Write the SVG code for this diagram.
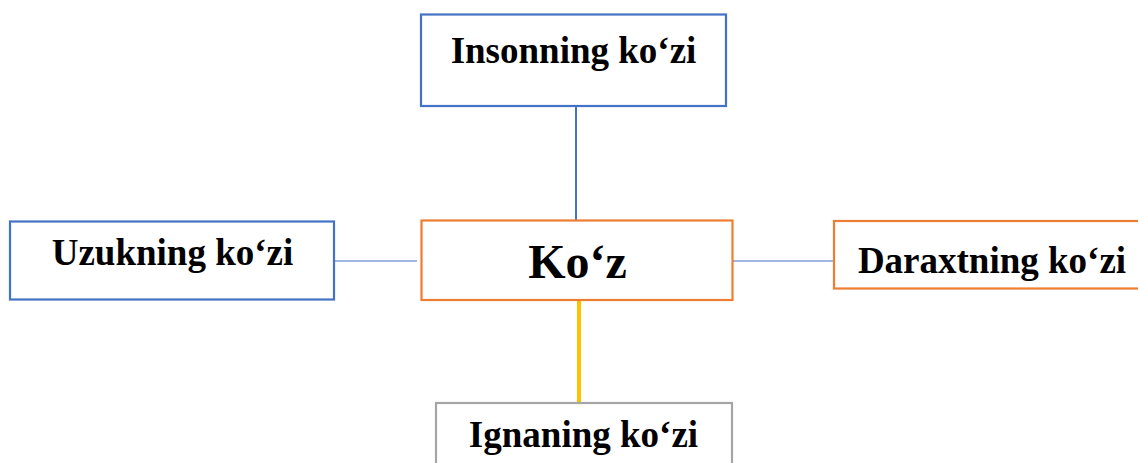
<svg xmlns="http://www.w3.org/2000/svg" width="1138" height="463" viewBox="0 0 1138 463">
<style>
.box{fill:#fff;stroke-width:2.2}
.lbl{font-family:"Liberation Serif","Times New Roman",serif;font-weight:bold;font-size:37px;fill:#000;text-anchor:middle}
.blue{stroke:#4472C4}
.orange{stroke:#ED7D31}
.gray{stroke:#A5A5A5}
</style>
<rect width="1138" height="463" fill="#fff"/>
<g id="connectors">
<line x1="576" y1="106" x2="576" y2="220" stroke="#4472C4" stroke-width="2"/>
<line x1="334" y1="261" x2="417" y2="261" stroke="#7F9FD9" stroke-width="1.5"/>
<line x1="733" y1="261" x2="834" y2="261" stroke="#7F9FD9" stroke-width="1.5"/>
<line x1="579" y1="300" x2="579" y2="403" stroke="#FFC000" stroke-width="4"/>
</g>
<g id="node-insonning">
<rect class="box blue" x="421" y="14.5" width="305" height="91.5"/>
<text class="lbl" x="573.5" y="63">Insonning ko‘zi</text>
</g>
<g id="node-koz">
<rect class="box orange" x="421.5" y="220.5" width="311" height="79.5"/>
<text class="lbl" x="577.5" y="278" style="font-size:48px">Ko‘z</text>
</g>
<g id="node-uzukning">
<rect class="box blue" x="10" y="221.5" width="324" height="78"/>
<text class="lbl" x="172.5" y="265">Uzukning ko‘zi</text>
</g>
<g id="node-daraxtning">
<rect class="box orange" x="834" y="221" width="320" height="67.5"/>
<text class="lbl" x="992" y="273">Daraxtning ko‘zi</text>
</g>
<g id="node-ignaning">
<rect class="box gray" x="436" y="403" width="296" height="80"/>
<text class="lbl" x="583.5" y="447">Ignaning ko‘zi</text>
</g>
</svg>
